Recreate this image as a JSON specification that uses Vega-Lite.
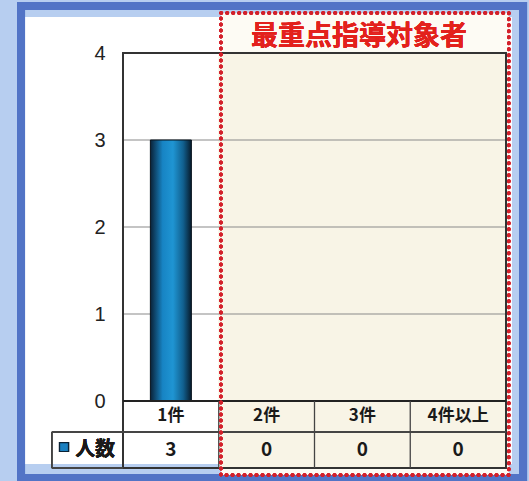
{
  "$schema": "https://vega.github.io/schema/vega-lite/v6.json",
  "autosize": "none",
  "padding": {"left": 123, "top": 53, "right": 23, "bottom": 13},
  "width": 383,
  "height": 415,
  "background": "#ffffff",
  "config": {"view": {"stroke": null}, "axisY": {"grid": false, "ticks": false, "domain": false, "title": null, "labelFontSize": 20, "labelFont": "Liberation Sans", "labelColor": "#222222", "labelPadding": 18}},
  "data": {"values": [
    {"cat": "1件", "n": 3},
    {"cat": "2件", "n": 0},
    {"cat": "3件", "n": 0},
    {"cat": "4件以上", "n": 0}
  ]},
  "resolve": {"scale": {"x": "independent"}},
  "layer": [
    {
      "data": {"values": [{"v": 1}, {"v": 2}, {"v": 3}]},
      "mark": {"type": "rule", "stroke": "#8a8a8a", "strokeWidth": 1.2, "opacity": 0},
      "encoding": {
        "y": {"field": "v", "type": "quantitative", "scale": {"domain": [-0.77, 4], "nice": false, "zero": false},
          "axis": {"values": [0, 1, 2, 3, 4], "format": "d", "grid": false, "ticks": false, "domain": false,
            "labelFontSize": 20, "labelFont": "Liberation Sans", "labelColor": "#222222",
            "labelPadding": 18, "title": null}}
      }
    },
    {
      "mark": {"type": "rect", "fill": null, "stroke": "#b7cef0", "strokeWidth": 34},
      "encoding": {
        "x": {"datum": -1.285, "scale": {"domain": [0, 4], "nice": false, "zero": false}, "axis": null},
        "x2": {"datum": 4.24},
        "y": {"datum": 4.609, "scale": {"domain": [-0.77, 4], "nice": false, "zero": false}},
        "y2": {"datum": -0.92}
      }
    },
    {
      "mark": {"type": "rect", "fill": null, "stroke": "#5274c6", "strokeWidth": 8},
      "encoding": {
        "x": {"datum": -1.065, "scale": {"domain": [0, 4], "nice": false, "zero": false}, "axis": null},
        "x2": {"datum": 4.178},
        "y": {"datum": 4.54, "scale": {"domain": [-0.77, 4], "nice": false, "zero": false}},
        "y2": {"datum": -0.885}
      }
    },
    {
      "mark": {"type": "rect", "fill": "#fdfbf4"},
      "encoding": {
        "x": {"datum": 1.023, "scale": {"domain": [0, 4], "nice": false, "zero": false}, "axis": null},
        "x2": {"datum": 4.03},
        "y": {"datum": 4.46, "scale": {"domain": [-0.77, 4], "nice": false, "zero": false}},
        "y2": {"datum": -0.85}
      }
    },
    {
      "mark": {"type": "rect", "fill": "#f8f4e6"},
      "encoding": {
        "x": {"datum": 1, "scale": {"domain": [0, 4], "nice": false, "zero": false}, "axis": null},
        "x2": {"datum": 4},
        "y": {"datum": 4, "scale": {"domain": [-0.77, 4], "nice": false, "zero": false}},
        "y2": {"datum": -0.77}
      }
    },
    {
      "data": {"values": [{"v": 1}, {"v": 2}, {"v": 3}]},
      "mark": {"type": "rule", "stroke": "#8a8a8a", "strokeWidth": 1.2},
      "encoding": {
        "y": {"field": "v", "type": "quantitative", "scale": {"domain": [-0.77, 4], "nice": false, "zero": false}}
      }
    },
    {
      "transform": [{"filter": "datum.n > 0"}],
      "mark": {"type": "bar", "width": 41, "stroke": "#06121c", "strokeWidth": 1,
        "color": {"gradient": "linear", "x1": 0, "x2": 1, "y1": 0, "y2": 0,
          "stops": [
            {"offset": 0, "color": "#0a2238"},
            {"offset": 0.3, "color": "#1784c4"},
            {"offset": 0.55, "color": "#1f95d3"},
            {"offset": 0.8, "color": "#11608f"},
            {"offset": 1, "color": "#081c2c"}
          ]}},
      "encoding": {
        "x": {"field": "cat", "type": "nominal", "scale": {"type": "band", "domain": ["1件", "2件", "3件", "4件以上"], "paddingInner": 0, "paddingOuter": 0}, "axis": null},
        "y": {"field": "n", "type": "quantitative", "scale": {"domain": [-0.77, 4], "nice": false, "zero": false}}
      }
    },
    {
      "mark": {"type": "rect", "fill": null, "stroke": "#333333", "strokeWidth": 1.5},
      "encoding": {
        "x": {"datum": 0, "scale": {"domain": [0, 4], "nice": false, "zero": false}, "axis": null},
        "x2": {"datum": 4},
        "y": {"datum": 4, "scale": {"domain": [-0.77, 4], "nice": false, "zero": false}},
        "y2": {"datum": -0.77}
      }
    },
    {
      "mark": {"type": "rule", "stroke": "#222222", "strokeWidth": 1.8},
      "encoding": {
        "x": {"datum": 0, "scale": {"domain": [0, 4], "nice": false, "zero": false}, "axis": null},
        "x2": {"datum": 4},
        "y": {"datum": 0, "scale": {"domain": [-0.77, 4], "nice": false, "zero": false}}
      }
    },
    {
      "mark": {"type": "rule", "stroke": "#444444", "strokeWidth": 1.3},
      "encoding": {
        "x": {"datum": -0.743, "scale": {"domain": [0, 4], "nice": false, "zero": false}, "axis": null},
        "x2": {"datum": 4},
        "y": {"datum": -0.356, "scale": {"domain": [-0.77, 4], "nice": false, "zero": false}}
      }
    },
    {
      "mark": {"type": "rule", "stroke": "#444444", "strokeWidth": 1.3},
      "encoding": {
        "x": {"datum": -0.743, "scale": {"domain": [0, 4], "nice": false, "zero": false}, "axis": null},
        "x2": {"datum": 0},
        "y": {"datum": -0.77, "scale": {"domain": [-0.77, 4], "nice": false, "zero": false}}
      }
    },
    {
      "mark": {"type": "rule", "stroke": "#444444", "strokeWidth": 1.3},
      "encoding": {
        "x": {"datum": -0.743, "scale": {"domain": [0, 4], "nice": false, "zero": false}, "axis": null},
        "y": {"datum": -0.356, "scale": {"domain": [-0.77, 4], "nice": false, "zero": false}},
        "y2": {"datum": -0.77}
      }
    },
    {
      "transform": [{"filter": "datum.cat !== '1件'"}],
      "mark": {"type": "rule", "stroke": "#444444", "strokeWidth": 1.3},
      "encoding": {
        "x": {"field": "cat", "type": "nominal", "bandPosition": 0, "scale": {"type": "band", "domain": ["1件", "2件", "3件", "4件以上"], "paddingInner": 0, "paddingOuter": 0}, "axis": null},
        "y": {"datum": 0, "scale": {"domain": [-0.77, 4], "nice": false, "zero": false}},
        "y2": {"datum": -0.77}
      }
    },
    {
      "mark": {"type": "text", "font": "Noto Sans CJK JP", "fontWeight": "bold", "fontSize": 17, "color": "#1a1a1a", "baseline": "middle"},
      "encoding": {
        "x": {"field": "cat", "type": "nominal", "scale": {"type": "band", "domain": ["1件", "2件", "3件", "4件以上"], "paddingInner": 0, "paddingOuter": 0}, "axis": null},
        "y": {"datum": -0.178, "scale": {"domain": [-0.77, 4], "nice": false, "zero": false}},
        "text": {"field": "cat"}
      }
    },
    {
      "mark": {"type": "text", "font": "Noto Sans CJK JP", "fontWeight": "bold", "fontSize": 19, "color": "#1a1a1a", "baseline": "middle"},
      "encoding": {
        "x": {"field": "cat", "type": "nominal", "scale": {"type": "band", "domain": ["1件", "2件", "3件", "4件以上"], "paddingInner": 0, "paddingOuter": 0}, "axis": null},
        "y": {"datum": -0.563, "scale": {"domain": [-0.77, 4], "nice": false, "zero": false}},
        "text": {"field": "n"}
      }
    },
    {
      "mark": {"type": "point", "shape": "square", "size": 80, "filled": true, "fill": "#1a80c0", "stroke": "#0a2235", "strokeWidth": 1.2, "opacity": 1},
      "encoding": {
        "x": {"datum": -0.616, "scale": {"domain": [0, 4], "nice": false, "zero": false}, "axis": null},
        "y": {"datum": -0.529, "scale": {"domain": [-0.77, 4], "nice": false, "zero": false}}
      }
    },
    {
      "mark": {"type": "text", "text": "人数", "font": "Noto Sans CJK JP", "fontWeight": "bold", "fontSize": 20, "color": "#1a1a1a", "align": "left", "baseline": "middle"},
      "encoding": {
        "x": {"datum": -0.5, "scale": {"domain": [0, 4], "nice": false, "zero": false}, "axis": null},
        "y": {"datum": -0.563, "scale": {"domain": [-0.77, 4], "nice": false, "zero": false}}
      }
    },
    {
      "mark": {"type": "text", "text": "最重点指導対象者", "font": "Noto Sans CJK JP", "fontWeight": "bold", "fontSize": 27, "color": "#e3211c", "align": "center", "baseline": "middle"},
      "encoding": {
        "x": {"datum": 2.465, "scale": {"domain": [0, 4], "nice": false, "zero": false}, "axis": null},
        "y": {"datum": 4.184, "scale": {"domain": [-0.77, 4], "nice": false, "zero": false}}
      }
    },
    {
      "mark": {"type": "rect", "fill": null, "stroke": "#d3202a", "strokeWidth": 3.5, "strokeDash": [0.5, 5.5], "strokeCap": "round"},
      "encoding": {
        "x": {"datum": 1.023, "scale": {"domain": [0, 4], "nice": false, "zero": false}, "axis": null},
        "x2": {"datum": 4.03},
        "y": {"datum": 4.46, "scale": {"domain": [-0.77, 4], "nice": false, "zero": false}},
        "y2": {"datum": -0.85}
      }
    }
  ]
}
